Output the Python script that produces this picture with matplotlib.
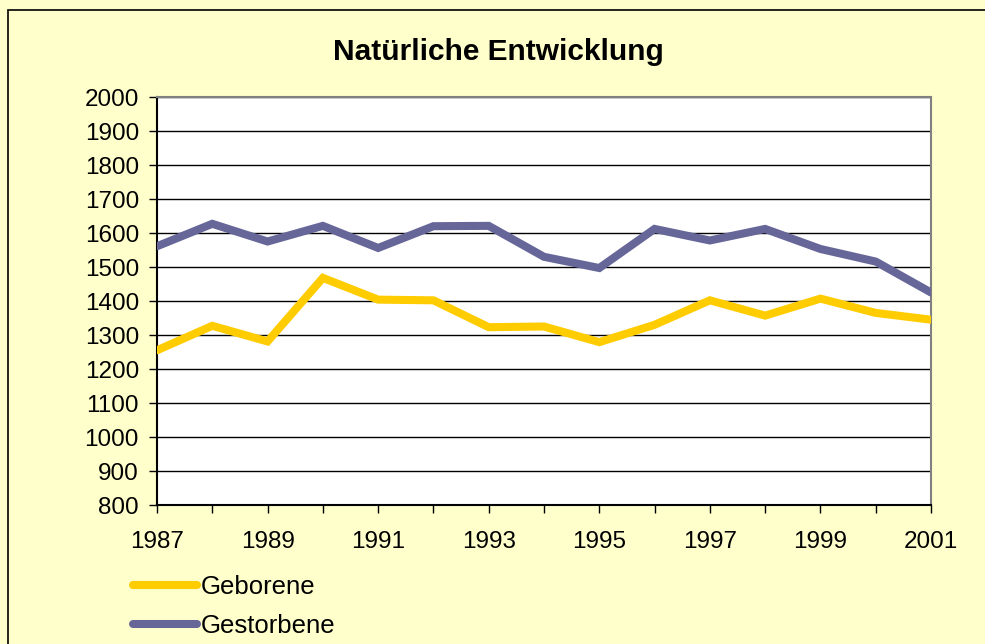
import numpy as np
import matplotlib.pyplot as plt
from matplotlib.patches import Rectangle

plt.rcParams['font.family'] = ['Liberation Sans', 'DejaVu Sans']

years = list(range(1987, 2002))
geborene = [1255, 1327, 1281, 1468, 1404, 1402, 1323, 1325,
            1279, 1330, 1402, 1357, 1407, 1365, 1345]
gestorbene = [1561, 1627, 1575, 1621, 1556, 1620, 1621, 1530,
              1497, 1612, 1578, 1612, 1553, 1516, 1425]

bg = '#FFFFCC'

fig = plt.figure(figsize=(9.85, 6.44), dpi=100, facecolor=bg)
# outer chart frame
fig.patches.append(Rectangle((8 / 985, -0.1), 1.1, 1 - 10 / 644 + 0.1,
                             transform=fig.transFigure, fill=False,
                             edgecolor='black', linewidth=1.2))

ax = fig.add_axes([157 / 985, 1 - 505 / 644, (931 - 157) / 985, (505 - 97) / 644])
ax.set_facecolor('white')

ax.plot(years, geborene, color='#FFCC00', lw=5.8, label='Geborene',
        solid_joinstyle='miter', solid_capstyle='round', zorder=3)
ax.plot(years, gestorbene, color='#666699', lw=5.8, label='Gestorbene',
        solid_joinstyle='miter', solid_capstyle='round', zorder=3)

ax.set_xlim(1987, 2001)
ax.set_ylim(800, 2000)
ax.set_yticks(range(800, 2001, 100))
ax.set_xticks(years)
ax.set_xticklabels([str(y) if y % 2 == 1 else '' for y in years])
ax.yaxis.grid(True, color='black', lw=1)
ax.tick_params(direction='out', length=6, width=1, labelsize=17.5)
ax.tick_params(axis='y', pad=7)
ax.tick_params(axis='x', pad=13)

ax.spines['left'].set_color('black')
ax.spines['bottom'].set_color('black')
ax.spines['top'].set_color('#808080')
ax.spines['right'].set_color('#808080')
for s in ax.spines.values():
    s.set_linewidth(1.5)

fig.text(498 / 985, 1 - 60 / 644, 'Natürliche Entwicklung', ha='center', va='baseline',
         fontsize=21.5, fontweight='bold')

leg = fig.legend(loc='upper left', bbox_to_anchor=(133 / 985, 1 - 575 / 644),
                 frameon=False, fontsize=18.5, handlelength=2.5,
                 handletextpad=0.12, labelspacing=0.58, borderpad=0,
                 borderaxespad=0)

fig.savefig('out.png', dpi=100, facecolor=bg)
